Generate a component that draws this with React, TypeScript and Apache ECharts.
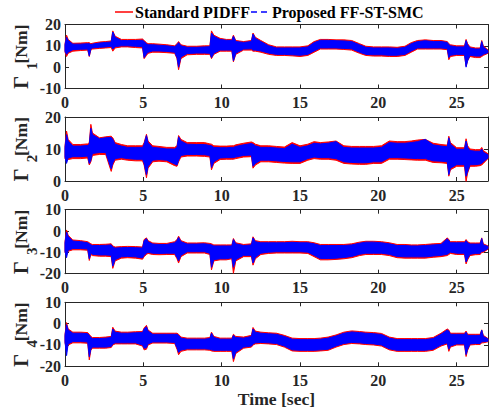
import React, { useEffect, useRef } from "react";
import * as echarts from "echarts";

type Band = [number, number, number][]; // [time (s), lower, upper]

const xTickStep = 5;
const xMax = 27;
const legendNames = ["Standard PIDFF", "Proposed FF-ST-SMC"];
const jointSubs = ["1", "2", "3", "4"];
const yMins = [-10, 0, -20, -20];
const yMaxs = [20, 20, 10, 10];

const j1Red: Band = [[0,7,11],[0.1,5,15],[0.2,6.5,13],[0.5,7.5,11.2],[1.0,7.8,11.3],[1.45,8,11.5],[1.55,5,11.5],[1.65,8,11],[1.75,8.5,11.2],[2.2,8.8,11.8],[2.6,9,12],[2.95,9.2,12.3],[3.05,7.5,17],[3.2,9,14.5],[3.6,9.5,13],[4.0,9.5,13],[4.5,9.2,13],[4.95,9,13.2],[5.05,4,12.5],[5.2,5.5,11.5],[5.3,6.5,11],[5.6,7,11],[6.0,7,10.8],[6.5,6.8,10.5],[7.0,6.5,10],[7.15,4,11],[7.25,-1.2,12],[7.4,4,10.5],[7.8,5.8,9.8],[8.4,6,9.8],[8.9,6,10],[9.25,6,10],[9.35,4,17],[9.5,6,15],[9.9,7.5,13.5],[10.3,7.5,13],[10.65,7.5,13],[10.75,2.5,15],[10.9,6,12.5],[11.4,8,12],[11.9,8,12.5],[12.0,7.5,16],[12.15,7.5,14],[12.5,7,12.5],[13.0,6,10.5],[13.5,5.5,9.5],[14.0,5.5,9.5],[14.5,5.3,9.5],[15.0,5,9.5],[15.5,5.5,10],[15.9,7,12],[16.3,8.5,13],[16.8,8.5,13],[17.3,8.5,12.8],[17.8,8.3,12.8],[18.3,8,12.5],[18.8,6.5,11],[19.2,5.5,9.8],[19.7,5.2,9.5],[20.2,5.2,9.5],[20.7,5,9.5],[21.2,5,9.3],[21.7,5.5,9.8],[22.1,7,11.5],[22.5,8.5,12.5],[23.0,8.5,12.8],[23.5,8.5,12.5],[24.0,8.5,12.5],[24.4,8.2,12],[24.5,3.5,11],[24.6,5,10.5],[25.0,5.5,10],[25.5,5.5,10],[25.6,0.5,13],[25.7,3,11],[25.85,5,9.5],[26.2,4.5,9],[26.5,4.5,9],[26.6,5,12.5],[26.7,5.5,10],[27.0,6.5,8]];
const j1Blue: Band = [[0,7.5,10.5],[0.1,6,14],[0.2,7,12.5],[0.5,8.2,10.8],[1.0,8.4,10.8],[1.45,8.5,11],[1.55,5.2,11],[1.65,8.6,10.6],[1.75,9,10.8],[2.2,9.3,11.3],[2.6,9.5,11.6],[2.95,9.8,11.8],[3.05,8.5,16.5],[3.2,9.6,14],[3.6,10,12.5],[4.0,10,12.5],[4.5,9.8,12.5],[4.95,9.6,12.6],[5.05,4.5,12],[5.2,6.2,11],[5.3,7,10.5],[5.6,7.6,10.5],[6.0,7.6,10.3],[6.5,7.4,10],[7.0,7,9.6],[7.15,4.5,10.5],[7.25,0,11.5],[7.4,4.8,10],[7.8,6.4,9.3],[8.4,6.6,9.3],[8.9,6.6,9.5],[9.25,6.5,9.6],[9.35,4.5,16],[9.5,6.5,14.5],[9.9,8,13],[10.3,8,12.6],[10.65,8,12.5],[10.75,3,14.5],[10.9,6.5,12],[11.4,8.5,11.6],[11.9,8.6,12],[12.0,8,15.5],[12.15,8,13.5],[12.5,7.6,12],[13.0,6.6,10],[13.5,6,9],[14.0,6,9],[14.5,5.8,9],[15.0,5.6,9],[15.5,6,9.5],[15.9,7.6,11.5],[16.3,9,12.6],[16.8,9,12.6],[17.3,9,12.4],[17.8,8.8,12.3],[18.3,8.6,12],[18.8,7,10.5],[19.2,6,9.3],[19.7,5.8,9],[20.2,5.8,9],[20.7,5.6,9],[21.2,5.6,8.8],[21.7,6,9.3],[22.1,7.6,11],[22.5,9,12],[23.0,9,12.4],[23.5,9,12],[24.0,9,12],[24.4,8.7,11.6],[24.5,4.5,10.5],[24.6,5.6,10],[25.0,6,9.5],[25.5,6,9.5],[25.6,0,12.5],[25.7,3,10.5],[25.85,5.6,9],[26.2,5.2,8.5],[26.5,5.2,8.5],[26.6,5.5,12],[26.7,6,9.5],[27.0,6.8,7.7]];

const j2Red: Band = [[0,7,11],[0.1,6.5,15.6],[0.2,6.7,13],[0.5,7,11.4],[1.0,7,11.4],[1.45,7.2,11.6],[1.55,5,12],[1.65,6,17.7],[1.75,8,15],[2.2,8.3,13.5],[2.6,8.3,13.8],[2.95,3,14],[3.05,5,13.5],[3.2,6.5,12],[3.6,6.8,11.4],[4.0,6.5,11],[4.5,6.3,11],[4.95,6.3,11],[5.05,5,12],[5.2,1,14.6],[5.3,4,12.5],[5.6,6,11],[6.0,6.2,10.8],[6.5,6,10.5],[7.0,4.8,10.5],[7.15,4.6,11],[7.25,6,14.2],[7.4,7.5,13],[7.8,7.8,12],[8.4,7.8,12],[8.9,7.7,12],[9.25,7.5,11.6],[9.35,3.5,11.5],[9.5,5.5,11],[9.9,6.7,10.9],[10.3,6.8,10.9],[10.65,6.8,11],[10.75,6.8,11],[10.9,7,11.3],[11.4,7.5,11.8],[11.9,7.6,12.2],[12.0,4,12],[12.15,5,11.5],[12.5,6,11],[13.0,6,11],[13.5,5.8,10.8],[14.0,5.6,10.6],[14.5,5.5,12],[15.0,5.5,11],[15.5,6.5,11.5],[15.9,7,12.3],[16.3,6.8,12],[16.8,6.8,12.2],[17.3,6.5,12.5],[17.8,5.5,11],[18.3,5.3,10.8],[18.8,5.2,10.8],[19.2,5.2,10.8],[19.7,5.5,10.8],[20.2,5.5,11],[20.7,6.8,12.5],[21.2,6.8,12.3],[21.7,6.7,12.3],[22.1,6.6,12.5],[22.5,6.5,12.8],[23.0,6.5,13],[23.5,5.8,11.8],[24.0,5.7,11.4],[24.4,5.5,11.2],[24.5,1.5,14],[24.6,3.5,12],[25.0,4.6,10.4],[25.5,4.6,10.4],[25.6,-0.1,13.2],[25.7,2.5,11],[25.85,4.6,10],[26.2,4.6,9.8],[26.5,4.8,9.8],[26.6,5,10.5],[26.7,5.5,9.5],[27.0,7,8.5]];
const j2Blue: Band = [[0,7.5,10.5],[0.1,5.5,14.5],[0.2,7.2,12.5],[0.5,7.6,10.9],[1.0,7.6,10.9],[1.45,7.8,11.1],[1.55,5.5,11.5],[1.65,6.5,16.5],[1.75,8.6,14.5],[2.2,8.9,13.2],[2.6,8.9,13.5],[2.95,3.8,13.6],[3.05,5.6,13],[3.2,7,11.5],[3.6,7.3,10.9],[4.0,7,10.5],[4.5,6.8,10.5],[4.95,6.8,10.5],[5.05,5.5,11.5],[5.2,2,14.2],[5.3,4.5,12],[5.6,6.5,10.5],[6.0,6.7,10.3],[6.5,6.5,10],[7.0,5.3,10],[7.15,5,10.5],[7.25,6.5,13.8],[7.4,8,12.5],[7.8,8.3,11.5],[8.4,8.3,11.4],[8.9,8.2,11.4],[9.25,8,11.1],[9.35,4.2,11],[9.5,6,10.5],[9.9,7.2,10.4],[10.3,7.3,10.4],[10.65,7.3,10.5],[10.75,7.3,10.5],[10.9,7.5,10.8],[11.4,8,11.3],[11.9,8.1,11.7],[12.0,4.6,11.5],[12.15,5.5,11],[12.5,6.5,10.5],[13.0,6.5,10.5],[13.5,6.3,10.3],[14.0,6.1,10.1],[14.5,6,11.5],[15.0,6,10.5],[15.5,7,11],[15.9,7.5,11.8],[16.3,7.3,11.6],[16.8,7.3,11.8],[17.3,7,12.3],[17.8,6,10.5],[18.3,5.8,10.3],[18.8,5.7,10.3],[19.2,5.7,10.3],[19.7,6,10.3],[20.2,6,10.5],[20.7,7.3,12],[21.2,7.3,11.8],[21.7,7.2,11.8],[22.1,7.1,12],[22.5,7,12.3],[23.0,7,13],[23.5,6.3,11.3],[24.0,6.2,10.9],[24.4,6,10.7],[24.5,2,13.5],[24.6,4,11.5],[25.0,5.1,9.9],[25.5,5.1,9.9],[25.6,1.5,12.5],[25.7,3,10.5],[25.85,5.1,9.5],[26.2,5.1,9.3],[26.5,5.3,9.3],[26.6,5.5,10],[26.7,6,9],[27.0,7.2,8.2]];

const j3Red: Band = [[0,-10,-5],[0.1,-11,0.5],[0.2,-9.5,-2],[0.5,-8.8,-4.2],[1.0,-8.8,-4.5],[1.45,-9,-5],[1.55,-13.8,-5.5],[1.65,-11,-6],[1.75,-11.5,-6.3],[2.2,-11.8,-6.3],[2.6,-11.8,-6.2],[2.95,-12,-6],[3.05,-17.5,-7],[3.2,-14,-7.5],[3.6,-12.7,-7.3],[4.0,-12.5,-7.2],[4.5,-12.7,-7.3],[4.95,-13.2,-7.5],[5.05,-12,-4],[5.2,-11,-3.2],[5.3,-10.5,-4.5],[5.6,-11,-5.6],[6.0,-11.1,-5.8],[6.5,-11,-5.8],[7.0,-11,-5],[7.15,-13,-4],[7.25,-15,-2.4],[7.4,-12,-4.5],[7.8,-10.3,-5.6],[8.4,-10.3,-5.6],[8.9,-10.3,-5.5],[9.25,-11,-5.8],[9.35,-18.2,-6],[9.5,-14,-6.5],[9.9,-13.5,-6.5],[10.3,-13.5,-6.5],[10.65,-13,-6.5],[10.75,-19.8,-3.5],[10.9,-14,-5.5],[11.4,-12,-6.3],[11.9,-12,-6],[12.0,-16,-2.7],[12.15,-13,-4.5],[12.5,-11,-5],[13.0,-10.5,-5],[13.5,-10.3,-5],[14.0,-10.3,-5],[14.5,-10.3,-4.8],[15.0,-10.3,-5],[15.5,-10.5,-5],[15.9,-12,-5.5],[16.3,-13.5,-6.3],[16.8,-13.5,-6.3],[17.3,-13.3,-6.3],[17.8,-13,-6.3],[18.3,-12.5,-6],[18.8,-11.5,-5.2],[19.2,-11,-4.8],[19.7,-11,-4.8],[20.2,-11,-5],[20.7,-11.5,-5.5],[21.2,-12.5,-6.3],[21.7,-12.7,-6.3],[22.1,-12.7,-6.5],[22.5,-12.7,-6.5],[23.0,-12.7,-6.3],[23.5,-12.3,-6],[24.0,-12,-5.8],[24.4,-11.5,-3.2],[24.5,-11,-4],[24.6,-10.5,-5],[25.0,-11,-5],[25.5,-11,-5],[25.6,-15.4,-4],[25.7,-13.5,-5],[25.85,-11.5,-5.6],[26.2,-11.1,-5.6],[26.5,-11,-5.6],[26.6,-10,-3.2],[26.7,-10,-6],[27.0,-8.5,-7]];
const j3Blue: Band = [[0,-9.5,-5.5],[0.1,-12.5,-0.5],[0.2,-9,-2.5],[0.5,-8.2,-4.7],[1.0,-8.2,-5],[1.45,-8.4,-5.5],[1.55,-13,-6],[1.65,-10.4,-6.5],[1.75,-10.9,-6.8],[2.2,-11.2,-6.8],[2.6,-11.2,-6.7],[2.95,-11.4,-6.5],[3.05,-16.5,-7.5],[3.2,-13.4,-8],[3.6,-12.1,-7.8],[4.0,-11.9,-7.7],[4.5,-12.1,-7.8],[4.95,-12.6,-8],[5.05,-11.4,-4.5],[5.2,-10.4,-3.6],[5.3,-10,-5],[5.6,-10.4,-6.1],[6.0,-10.5,-6.3],[6.5,-10.4,-6.3],[7.0,-10.4,-5.5],[7.15,-12.4,-4.5],[7.25,-14,-3],[7.4,-11.4,-5],[7.8,-9.7,-6.1],[8.4,-9.7,-6.1],[8.9,-9.7,-6],[9.25,-10.4,-6.3],[9.35,-17,-6.5],[9.5,-13.4,-7],[9.9,-13,-7],[10.3,-13,-7],[10.65,-12.5,-7],[10.75,-17,-4],[10.9,-13.4,-6],[11.4,-11.4,-6.8],[11.9,-11.4,-6.5],[12.0,-15,-3.2],[12.15,-12.4,-5],[12.5,-10.4,-5.5],[13.0,-9.9,-5.5],[13.5,-9.7,-5.5],[14.0,-9.7,-5.5],[14.5,-9.7,-5.3],[15.0,-9.7,-5.5],[15.5,-9.9,-5.5],[15.9,-11.4,-6],[16.3,-12.9,-6.8],[16.8,-12.9,-6.8],[17.3,-12.7,-6.8],[17.8,-12.4,-6.8],[18.3,-11.9,-6.5],[18.8,-10.9,-5.7],[19.2,-10.4,-5.2],[19.7,-10.4,-5.2],[20.2,-10.4,-5.5],[20.7,-10.9,-6],[21.2,-11.9,-6.8],[21.7,-12.1,-6.8],[22.1,-12.1,-7],[22.5,-12.1,-7],[23.0,-12.1,-6.8],[23.5,-11.7,-6.5],[24.0,-11.4,-6.3],[24.4,-10.9,-3.6],[24.5,-10.4,-4.5],[24.6,-9.9,-5.5],[25.0,-10.4,-5.5],[25.5,-10.4,-5.5],[25.6,-14.5,-4.5],[25.7,-12.9,-5.5],[25.85,-10.9,-6.1],[26.2,-10.5,-6.1],[26.5,-10.4,-6.1],[26.6,-9.5,-3.5],[26.7,-9.5,-6.5],[27.0,-8.2,-7.2]];

const j4Red: Band = [[0,-9,-5],[0.1,-12,0.5],[0.2,-10,-2.5],[0.5,-9,-4],[1.0,-9,-4],[1.45,-9.2,-4.2],[1.55,-17,-5],[1.65,-12.5,-6],[1.75,-11.5,-6.5],[2.2,-11.5,-6.5],[2.6,-11.5,-6.3],[2.95,-11.2,-6],[3.05,-10,-1.7],[3.2,-9.5,-3.5],[3.6,-9.5,-4],[4.0,-9.5,-4],[4.5,-9.5,-3.8],[4.95,-10.5,-3.7],[5.05,-12.3,-2],[5.2,-12,-0.8],[5.3,-10,-3],[5.6,-9.1,-4.5],[6.0,-9.1,-4.5],[6.5,-9.1,-4.5],[7.0,-9.3,-4.5],[7.15,-12,-4.5],[7.25,-14.6,-5],[7.4,-13,-6.3],[7.8,-12.3,-6.8],[8.4,-12.3,-6.8],[8.9,-12.3,-6.8],[9.25,-12.5,-6.5],[9.35,-12.8,-4],[9.5,-13,-6],[9.9,-13,-6.8],[10.3,-13,-6.8],[10.65,-13,-6.8],[10.75,-17.8,-5],[10.9,-14,-6],[11.4,-11.5,-6.3],[11.9,-11,-5.5],[12.0,-10,-1.8],[12.15,-9.5,-3.5],[12.5,-9.3,-4],[13.0,-9.5,-4.3],[13.5,-9.8,-4.5],[14.0,-11,-5.5],[14.5,-12.8,-6.8],[15.0,-13,-7],[15.5,-13,-7],[15.9,-13,-7],[16.3,-12.8,-6.8],[16.8,-12.5,-6.3],[17.3,-11,-5.3],[17.8,-9.8,-4],[18.3,-9.3,-3.4],[18.8,-9.5,-3.7],[19.2,-9.8,-4],[19.7,-10,-4.2],[20.2,-10.5,-4.6],[20.7,-12.3,-6.3],[21.2,-13,-7],[21.7,-13,-7],[22.1,-13,-7],[22.5,-13,-7],[23.0,-13,-7],[23.5,-12.5,-6.5],[24.0,-10.5,-4.5],[24.4,-9.5,-2.5],[24.5,-13,-3],[24.6,-11,-4.5],[25.0,-10,-4.5],[25.5,-10,-4.5],[25.6,-15.4,-3.5],[25.7,-12.5,-5],[25.85,-10,-5],[26.2,-9.8,-5],[26.5,-9.8,-5],[26.6,-9,-2.9],[26.7,-9,-5.5],[27.0,-8.5,-7]];
const j4Blue: Band = [[0,-8.5,-5.5],[0.1,-15,-0.5],[0.2,-9.5,-3],[0.5,-8.4,-4.5],[1.0,-8.4,-4.5],[1.45,-8.6,-4.7],[1.55,-15.5,-5.5],[1.65,-12,-6.5],[1.75,-11,-7],[2.2,-11,-7],[2.6,-11,-6.8],[2.95,-10.7,-6.5],[3.05,-9.5,-2.5],[3.2,-9,-4],[3.6,-9,-4.5],[4.0,-9,-4.5],[4.5,-9,-4.3],[4.95,-10,-4.2],[5.05,-11.5,-2.5],[5.2,-11.3,-1.5],[5.3,-9.5,-3.5],[5.6,-8.6,-5],[6.0,-8.6,-5],[6.5,-8.6,-5],[7.0,-8.8,-5],[7.15,-11.3,-5],[7.25,-13.5,-5.5],[7.4,-12.4,-6.8],[7.8,-11.8,-7.3],[8.4,-11.8,-7.3],[8.9,-11.8,-7.3],[9.25,-12,-7],[9.35,-12.3,-4.5],[9.5,-12.5,-6.5],[9.9,-12.5,-7.3],[10.3,-12.5,-7.3],[10.65,-12.5,-7.3],[10.75,-16.5,-5.5],[10.9,-13.4,-6.5],[11.4,-11,-6.8],[11.9,-10.5,-6],[12.0,-9.5,-2.5],[12.15,-9,-4],[12.5,-8.8,-4.5],[13.0,-9,-4.8],[13.5,-9.3,-5],[14.0,-10.5,-6],[14.5,-12.3,-7.3],[15.0,-12.5,-7.5],[15.5,-12.5,-7.5],[15.9,-12.5,-7.5],[16.3,-12.3,-7.3],[16.8,-12,-6.8],[17.3,-10.5,-5.8],[17.8,-9.3,-4.5],[18.3,-8.8,-3.9],[18.8,-9,-4.2],[19.2,-9.3,-4.5],[19.7,-9.5,-4.7],[20.2,-10,-5.1],[20.7,-11.8,-6.8],[21.2,-12.5,-7.5],[21.7,-12.5,-7.5],[22.1,-12.5,-7.5],[22.5,-12.5,-7.5],[23.0,-12.5,-7.5],[23.5,-12,-7],[24.0,-10,-5],[24.4,-9,-3],[24.5,-12,-3.5],[24.6,-10.5,-5],[25.0,-9.5,-5],[25.5,-9.5,-5],[25.6,-14.5,-4],[25.7,-12,-5.5],[25.85,-9.5,-5.5],[26.2,-9.3,-5.5],[26.5,-9.3,-5.5],[26.6,-8.5,-3],[26.7,-8.5,-6],[27.0,-8.2,-7.2]];

const redBands = [j1Red, j2Red, j3Red, j4Red];
const blueBands = [j1Blue, j2Blue, j3Blue, j4Blue];

const FONT = "'Liberation Serif', 'Times New Roman', serif";
const AXIS_COLOR = "#262626";
const RED = "#ff0000";
const BLUE = "#0000ff";

const GRID_LEFT = 65;
const GRID_WIDTH = 423;
const GRID_HEIGHT = 64;
const GRID_TOPS = [24.5, 117, 209.7, 302.3];

function bandSeries(data: Band, color: string, axisIdx: number, name: string, z: number) {
  return {
    type: "custom",
    name,
    xAxisIndex: axisIdx * 2,
    yAxisIndex: axisIdx * 2,
    data,
    encode: { x: 0, y: [1, 2] },
    silent: true,
    z,
    renderItem: (params: any, api: any) => {
      if (params.dataIndex !== 0) return { type: "group", children: [] };
      const top = data.map((d) => api.coord([d[0], d[2]]));
      const bottom = data.map((d) => api.coord([d[0], d[1]])).reverse();
      return {
        type: "polygon",
        shape: { points: top.concat(bottom) },
        style: { fill: color, stroke: color, lineWidth: 1 },
      };
    },
  };
}

export default function App() {
  const ref = useRef<HTMLDivElement>(null);
  useEffect(() => {
    if (!ref.current) return;
    const chart = echarts.init(ref.current, undefined, { renderer: "svg" });

    const grids: any[] = [];
    const xAxes: any[] = [];
    const yAxes: any[] = [];
    const series: any[] = [];
    const graphics: any[] = [];

    const tickStyle = { show: true, inside: true, length: 4, lineStyle: { color: AXIS_COLOR, width: 1 } };
    const lineStyle = { show: true, onZero: false, lineStyle: { color: AXIS_COLOR, width: 1 } };
    const labelStyle = { fontFamily: FONT, fontWeight: "bold", fontSize: 16, color: AXIS_COLOR };

    for (let i = 0; i < 4; i++) {
      grids.push({ left: GRID_LEFT, top: GRID_TOPS[i], width: GRID_WIDTH, height: GRID_HEIGHT, show: false });
      xAxes.push({
        type: "value", gridIndex: i, min: 0, max: xMax, interval: xTickStep, position: "bottom",
        axisLine: lineStyle, axisTick: tickStyle, splitLine: { show: false },
        axisLabel: { ...labelStyle, margin: 6, showMaxLabel: false },
      });
      xAxes.push({
        type: "value", gridIndex: i, min: 0, max: xMax, interval: xTickStep, position: "top",
        axisLine: lineStyle, axisTick: tickStyle, splitLine: { show: false }, axisLabel: { show: false },
      });
      yAxes.push({
        type: "value", gridIndex: i, min: yMins[i], max: yMaxs[i], interval: 10, position: "left",
        axisLine: lineStyle, axisTick: tickStyle, splitLine: { show: false },
        axisLabel: { ...labelStyle, margin: 4 },
      });
      yAxes.push({
        type: "value", gridIndex: i, min: yMins[i], max: yMaxs[i], interval: 10, position: "right",
        axisLine: lineStyle, axisTick: tickStyle, splitLine: { show: false }, axisLabel: { show: false },
      });
      series.push(bandSeries(redBands[i], RED, i, legendNames[0], 2));
      series.push(bandSeries(blueBands[i], BLUE, i, legendNames[1], 3));

      const cy = GRID_TOPS[i] + GRID_HEIGHT / 2;
      const tStyle = (text: string, size: number) => ({
        text, fontFamily: FONT, fontWeight: "bold", fontSize: size, fill: AXIS_COLOR,
        textAlign: "center", textVerticalAlign: "middle", align: "center", verticalAlign: "middle",
      });
      graphics.push({
        type: "group", x: 21, y: cy, rotation: Math.PI / 2,
        children: [
          { type: "text", x: -26, y: 0, style: tStyle("Γ", 20) },
          { type: "text", x: -9.5, y: 10.5, style: tStyle(jointSubs[i], 15) },
          { type: "text", x: 12.5, y: 0, style: tStyle("[Nm]", 17.6) },
        ],
      });
    }

    // legend
    graphics.push({ type: "line", shape: { x1: 115, y1: 12, x2: 133, y2: 12 }, style: { stroke: RED, lineWidth: 1.5 } });
    graphics.push({
      type: "text", x: 135, y: 12,
      style: { text: legendNames[0], fontFamily: FONT, fontWeight: "bold", fontSize: 16, fill: "#000",
        textAlign: "left", textVerticalAlign: "middle", align: "left", verticalAlign: "middle" },
    });
    graphics.push({ type: "line", shape: { x1: 251, y1: 12, x2: 270, y2: 12 }, style: { stroke: BLUE, lineWidth: 1.5, lineDash: [6, 4] } });
    graphics.push({
      type: "text", x: 272, y: 12,
      style: { text: legendNames[1], fontFamily: FONT, fontWeight: "bold", fontSize: 16, fill: "#000",
        textAlign: "left", textVerticalAlign: "middle", align: "left", verticalAlign: "middle" },
    });
    // x axis title
    graphics.push({
      type: "text", x: GRID_LEFT + GRID_WIDTH / 2, y: 399,
      style: { text: "Time [sec]", fontFamily: FONT, fontWeight: "bold", fontSize: 17.6, fill: AXIS_COLOR,
        textAlign: "center", textVerticalAlign: "middle", align: "center", verticalAlign: "middle" },
    });

    chart.setOption({
      animation: false,
      backgroundColor: "#ffffff",
      grid: grids,
      xAxis: xAxes,
      yAxis: yAxes,
      series,
      graphic: graphics,
    });
    return () => chart.dispose();
  }, []);

  return <div ref={ref} style={{ position: "fixed", left: 0, top: 0, width: 490, height: 411 }} />;
}
